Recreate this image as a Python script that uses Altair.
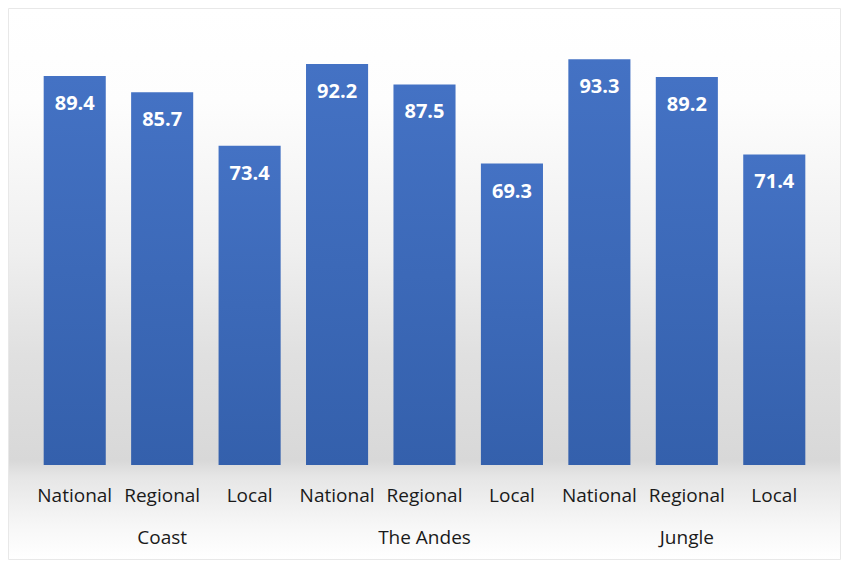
import altair as alt
import pandas as pd

# ---- data ----
groups = ["Coast", "Coast", "Coast", "The Andes", "The Andes", "The Andes", "Jungle", "Jungle", "Jungle"]
types = ["National", "Regional", "Local"] * 3
values = [89.4, 85.7, 73.4, 92.2, 87.5, 69.3, 93.3, 89.2, 71.4]
group_names = ["Coast", "The Andes", "Jungle"]

keys = [f"{g}|{t}" for g, t in zip(groups, types)]
df = pd.DataFrame({"key": keys, "type": types, "value": values, "group": groups})
grp_df = pd.DataFrame({"key": [f"{g}|Regional" for g in group_names], "group": group_names})

W, H = 787, 445
PL, PT, PR, PB = 23, 12, 23, 95
FONT = "Open Sans"

x_enc = alt.X(
    "key:N",
    sort=keys,
    scale=alt.Scale(paddingInner=0.29, paddingOuter=0.145),
    axis=alt.Axis(
        title=None,
        labelExpr="split(datum.label, '|')[1]",
        ticks=False,
        domain=False,
        labelAngle=0,
        labelFont=FONT,
        labelFontSize=19,
        labelColor="#1a1a1a",
        labelBaseline="alphabetic",
        labelPadding=36,
        zindex=2,
    ),
)
y_scale = alt.Scale(domain=[0, 102.3], nice=False, zero=True)
y_enc = alt.Y("value:Q", scale=y_scale, axis=None)

bg_grad = alt.Gradient(
    gradient="linear",
    x1=0, x2=0, y1=0, y2=1,
    stops=[
        alt.GradientStop(offset=0.0, color="#ffffff"),
        alt.GradientStop(offset=0.17, color="#fdfdfd"),
        alt.GradientStop(offset=0.44, color="#efefef"),
        alt.GradientStop(offset=0.63, color="#e0e0e0"),
        alt.GradientStop(offset=0.82, color="#d8d8d8"),
        alt.GradientStop(offset=0.85, color="#e6e6e6"),
        alt.GradientStop(offset=0.94, color="#f7f7f7"),
        alt.GradientStop(offset=1.0, color="#ffffff"),
    ],
)

background = alt.Chart(pd.DataFrame({"a": [0]})).mark_rect(
    fill=bg_grad, stroke="#e8e8e8", strokeWidth=1, clip=False
).encode(
    x=alt.value(-PL + 0.5),
    x2=alt.value(W + PR - 0.5),
    y=alt.value(-PT + 0.5),
    y2=alt.value(H + PB - 0.5),
)

bar_grad = alt.Gradient(
    gradient="linear",
    x1=0, x2=0, y1=0, y2=1,
    stops=[
        alt.GradientStop(offset=0.0, color="#4472C4"),
        alt.GradientStop(offset=1.0, color="#3460AC"),
    ],
)

bars = alt.Chart(df).mark_bar(fill=bar_grad).encode(x=x_enc, y=y_enc)

values_text = alt.Chart(df).mark_text(
    font=FONT, fontSize=20, fontWeight="bold", color="white", baseline="alphabetic", dy=34
).encode(x=alt.X("key:N", sort=keys), y=y_enc, text=alt.Text("value:Q", format=".1f"))

group_text = alt.Chart(grp_df).mark_text(
    font=FONT, fontSize=19, color="#1a1a1a", baseline="alphabetic"
).encode(x=alt.X("key:N", sort=keys), y=alt.value(H + 79), text="group:N")

chart = (
    alt.layer(background, bars, values_text, group_text)
    .properties(
        width=W,
        height=H,
        padding={"left": PL, "top": PT, "right": PR, "bottom": PB},
        autosize=alt.AutoSizeParams(type="none"),
        background="white",
    )
    .configure_view(stroke=None)
)

chart.save("out.html", embed_options={"renderer": "svg", "actions": False})
